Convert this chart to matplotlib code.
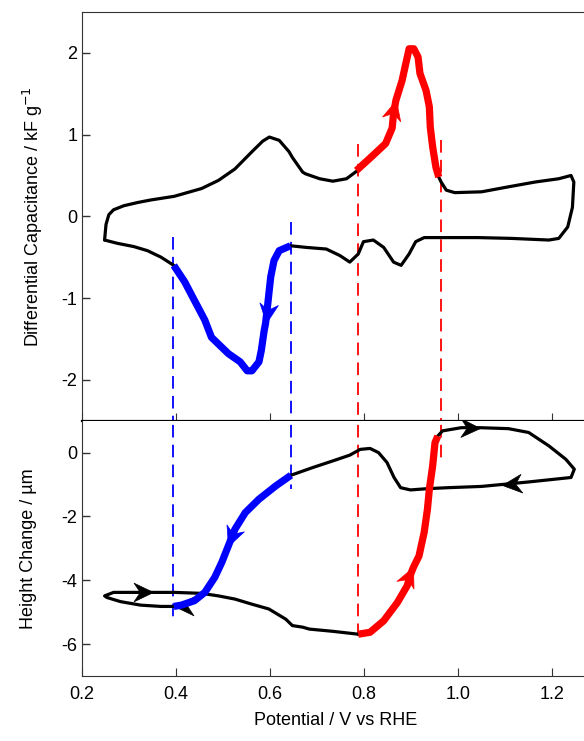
import numpy as np
import matplotlib.pyplot as plt
from matplotlib.path import Path
from matplotlib.markers import MarkerStyle
from matplotlib.transforms import Affine2D

plt.rcParams['font.family'] = ['Liberation Sans', 'DejaVu Sans']
plt.rcParams['font.size'] = 13

# Kapazitaet (oben), Abschnitte in Scanrichtung
cap_black_a_x = [0.249, 0.252, 0.258, 0.268, 0.29, 0.32, 0.347, 0.397, 0.455, 0.491, 0.526, 0.562, 0.585, 0.599, 0.62, 0.641, 0.648, 0.67, 0.676, 0.706, 0.734, 0.763, 0.784]
cap_black_a_y = [-0.29, -0.1, 0.02, 0.08, 0.13, 0.17, 0.2, 0.245, 0.34, 0.44, 0.58, 0.79, 0.92, 0.97, 0.93, 0.79, 0.72, 0.54, 0.52, 0.46, 0.43, 0.46, 0.55]
cap_red_x = [0.784, 0.82, 0.846, 0.86, 0.863, 0.868, 0.881, 0.889, 0.896, 0.906, 0.915, 0.919, 0.932, 0.939, 0.941, 0.946, 0.953, 0.959]
cap_red_y = [0.56, 0.75, 0.89, 1.08, 1.26, 1.42, 1.66, 1.87, 2.05, 2.05, 1.95, 1.75, 1.54, 1.34, 1.09, 0.85, 0.6, 0.48]
cap_black_b_x = [0.959, 0.964, 0.975, 0.993, 1.05, 1.106, 1.164, 1.214, 1.24, 1.246, 1.243, 1.233, 1.214, 1.193, 1.114, 1.042, 0.964, 0.928, 0.91, 0.896, 0.879, 0.863, 0.842, 0.82, 0.799, 0.788, 0.77, 0.749, 0.72, 0.677, 0.644]
cap_black_b_y = [0.48, 0.42, 0.32, 0.29, 0.30, 0.36, 0.42, 0.46, 0.50, 0.42, 0.11, -0.13, -0.27, -0.29, -0.27, -0.26, -0.26, -0.26, -0.31, -0.46, -0.6, -0.56, -0.38, -0.29, -0.31, -0.46, -0.56, -0.48, -0.4, -0.38, -0.36]
cap_blue_x = [0.644, 0.62, 0.609, 0.602, 0.598, 0.595, 0.591, 0.588, 0.582, 0.577, 0.562, 0.552, 0.537, 0.512, 0.476, 0.462, 0.44, 0.419, 0.396]
cap_blue_y = [-0.36, -0.42, -0.54, -0.74, -0.95, -1.11, -1.31, -1.4, -1.64, -1.78, -1.89, -1.89, -1.78, -1.68, -1.48, -1.27, -1.03, -0.80, -0.6]
cap_black_c_x = [0.396, 0.369, 0.34, 0.311, 0.276, 0.249]
cap_black_c_y = [-0.6, -0.5, -0.42, -0.37, -0.33, -0.29]

# Hoehenaenderung (unten)
h_red_x = [0.788, 0.813, 0.842, 0.871, 0.892, 0.898, 0.905, 0.917, 0.928, 0.935, 0.939, 0.946, 0.951, 0.957]
h_red_y = [-5.69, -5.63, -5.27, -4.7, -4.17, -3.86, -3.6, -3.24, -2.5, -1.77, -1.15, -0.42, 0.31, 0.52]
h_black_a_x = [0.957, 0.967, 1.007, 1.046, 1.107, 1.15, 1.193, 1.229, 1.247, 1.24, 1.208, 1.15, 1.093, 1.05, 0.978, 0.935, 0.899, 0.878, 0.864, 0.849, 0.831, 0.813, 0.792, 0.77, 0.734, 0.691, 0.645]
h_black_a_y = [0.52, 0.68, 0.78, 0.78, 0.75, 0.63, 0.21, -0.21, -0.52, -0.78, -0.83, -0.92, -1.0, -1.06, -1.10, -1.13, -1.17, -1.1, -0.78, -0.31, 0.0, 0.13, 0.1, -0.08, -0.26, -0.47, -0.71]
h_blue_x = [0.645, 0.613, 0.577, 0.548, 0.526, 0.512, 0.498, 0.483, 0.462, 0.44, 0.412, 0.396]
h_blue_y = [-0.71, -1.04, -1.46, -1.88, -2.4, -2.92, -3.44, -3.91, -4.38, -4.64, -4.78, -4.82]
h_black_b_x = [0.396, 0.369, 0.326, 0.283, 0.254, 0.249, 0.268, 0.351, 0.397, 0.455, 0.491, 0.526, 0.562, 0.598, 0.634, 0.648, 0.67, 0.684, 0.734, 0.788]
h_black_b_y = [-4.82, -4.82, -4.78, -4.67, -4.54, -4.49, -4.38, -4.38, -4.38, -4.41, -4.49, -4.59, -4.75, -4.9, -5.22, -5.42, -5.47, -5.53, -5.6, -5.69]

# gestrichelte Markierungen: x, Start oben (kF/g), Ende unten (um)
blue_marks_x = [0.394, 0.645]
blue_marks_top = [-0.25, -0.07]
blue_marks_bot = [-5.26, -1.15]
red_marks_x = [0.787, 0.963]
red_marks_top = [0.89, 0.93]
red_marks_bot = [-5.94, -0.31]

xticks = [0.2, 0.4, 0.6, 0.8, 1.0, 1.2]
xticklabels = ['0.2', '0.4', '0.6', '0.8', '1.0', '1.2']

fig = plt.figure(figsize=(5.84, 7.41), dpi=100)
ax1 = fig.add_axes([0.1396, 0.4323, 0.8704, 0.5515])
ax2 = fig.add_axes([0.1396, 0.0877, 0.8704, 0.3446])

gray = '#333333'
for ax in (ax1, ax2):
    ax.set_xlim(0.2, 1.28)
    ax.set_xticks(xticks)
    ax.spines['right'].set_visible(False)
    ax.spines['left'].set_color(gray)
    ax.tick_params(axis='y', direction='in', length=5.5, color=gray, width=1, pad=3)

ax1.set_ylim(-2.5, 2.5)
ax1.set_yticks([-2, -1, 0, 1, 2])
ax1.set_yticklabels(['-2', '-1', '0', '1', '2'])
ax1.spines['top'].set_color(gray)
ax1.spines['bottom'].set_color('black')
ax1.spines['bottom'].set_linewidth(1.6)
ax1.tick_params(axis='x', direction='in', length=5.5, color=gray, labelbottom=False)

ax2.set_ylim(-7, 1)
ax2.set_yticks([-6, -4, -2, 0])
ax2.set_yticklabels(['-6', '-4', '-2', '0'])
ax2.spines['top'].set_visible(False)
ax2.spines['bottom'].set_color(gray)
ax2.tick_params(axis='x', direction='in', length=5.5, color=gray, pad=7.5)
ax2.set_xticklabels(xticklabels)

lw_k = 2.3
lw_c = 5.2
kw_k = dict(color='black', lw=lw_k, solid_capstyle='round', solid_joinstyle='round', zorder=3)
ax1.plot(cap_black_a_x, cap_black_a_y, **kw_k)
ax1.plot(cap_black_b_x, cap_black_b_y, **kw_k)
ax1.plot(cap_black_c_x, cap_black_c_y, **kw_k)
ax1.plot(cap_red_x, cap_red_y, color='red', lw=lw_c, solid_capstyle='butt', solid_joinstyle='round', zorder=4)
ax1.plot(cap_blue_x, cap_blue_y, color='blue', lw=lw_c, solid_capstyle='butt', solid_joinstyle='round', zorder=4)

ax2.plot(h_black_a_x, h_black_a_y, **kw_k)
ax2.plot(h_black_b_x, h_black_b_y, **kw_k)
ax2.plot(h_red_x, h_red_y, color='red', lw=lw_c, solid_capstyle='butt', solid_joinstyle='round', zorder=4)
ax2.plot(h_blue_x, h_blue_y, color='blue', lw=lw_c, solid_capstyle='butt', solid_joinstyle='round', zorder=4)

# gestrichelte Linien ueber beide Achsen
for xs, tops, bots, col in [(blue_marks_x, blue_marks_top, blue_marks_bot, 'blue'),
                            (red_marks_x, red_marks_top, red_marks_bot, 'red')]:
    for xv, yt, yb in zip(xs, tops, bots):
        ax1.plot([xv, xv], [yt, -3.0], color=col, lw=1.3, dashes=(7, 4), zorder=2)
        ax2.plot([xv, xv], [1.5, yb], color=col, lw=1.3, dashes=(7, 4), zorder=2)

# Pfeilspitze (Spitze im Ursprung, zeigt nach +x)
arrow_path = Path([(0, 0), (-1, 0.48), (-0.68, 0), (-1, -0.48), (0, 0)],
                  [Path.MOVETO, Path.LINETO, Path.LINETO, Path.LINETO, Path.CLOSEPOLY])


def pfeil(ax, xs, ys, i, col, z):
    n = len(xs)
    p0 = ax.transData.transform((xs[max(i - 1, 0)], ys[max(i - 1, 0)]))
    p1 = ax.transData.transform((xs[min(i + 1, n - 1)], ys[min(i + 1, n - 1)]))
    ang = np.degrees(np.arctan2(p1[1] - p0[1], p1[0] - p0[0]))
    m = MarkerStyle(arrow_path, transform=Affine2D().rotate_deg(ang))
    ax.plot([xs[i]], [ys[i]], marker=m, ms=28, color=col, mec=col, mew=0.5,
            linestyle='none', zorder=z)


pfeil(ax1, cap_blue_x, cap_blue_y, 6, 'blue', 5)
pfeil(ax1, cap_red_x, cap_red_y, 5, 'red', 5)
pfeil(ax2, h_blue_x, h_blue_y, 5, 'blue', 5)
pfeil(ax2, h_red_x, h_red_y, 6, 'red', 5)
pfeil(ax2, h_black_a_x, h_black_a_y, 3, 'black', 3)
pfeil(ax2, h_black_a_x, h_black_a_y, 12, 'black', 3)
pfeil(ax2, h_black_b_x, h_black_b_y, 7, 'black', 3)
pfeil(ax2, h_black_b_x, h_black_b_y, 0, 'black', 3)

ax1.set_ylabel('Differential Capacitance / kF g$^{-1}$', fontsize=13)
ax2.set_ylabel('Height Change / µm', fontsize=13)
ax2.set_xlabel('Potential / V vs RHE', fontsize=13)
ax1.yaxis.set_label_coords(-0.072, 0.5)
ax2.yaxis.set_label_coords(-0.088, 0.5)
ax2.xaxis.set_label_coords(0.5, -0.14)

fig.savefig('out.png', dpi=100)
